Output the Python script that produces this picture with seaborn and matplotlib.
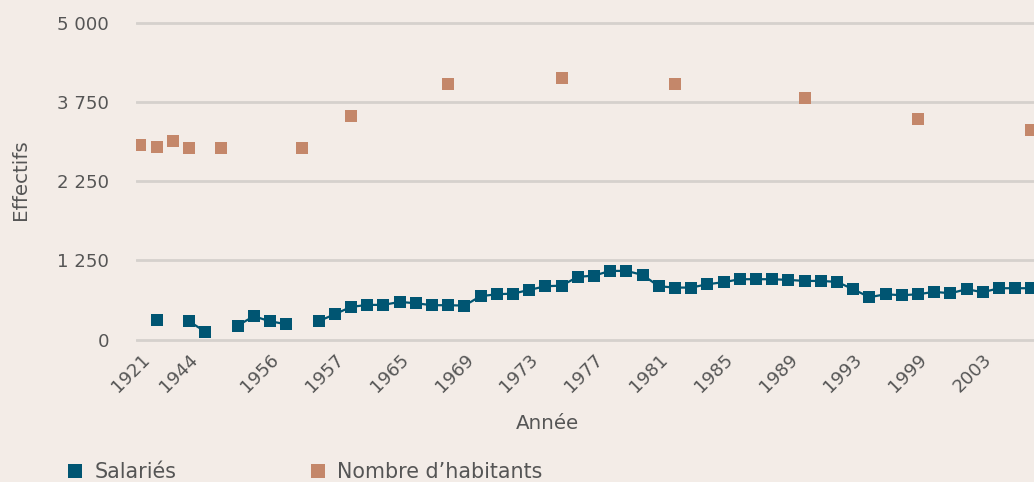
import numpy as np
import pandas as pd
import matplotlib
matplotlib.use("Agg")
import matplotlib.pyplot as plt
import matplotlib.transforms as mtransforms
import seaborn as sns
from matplotlib.lines import Line2D

# one slot per category on the x axis, None where no value
salaries = [None, 306, None, 290, 126, None, 221, 369, 290, 243,
            None, 290, 401, 516, 548, 548, 595, 574, 543, 543,
            537, 685, 716, 726, 784, 842, 852, 990, 1010, 1084,
            1084, 1021, 842, 821, 821, 874, 906, 953, 953, 953,
            942, 926, 926, 911, 795, 669, 716, 700, 716, 753,
            732, 795, 748, 811, 811, 811]
habitants = [3068, 3037, 3136, 3021, None, 3021, None, None, None, None,
             3021, None, None, 3526, None, None, None, None, None, 4031,
             None, None, None, None, None, None, 4126, None, None, None,
             None, None, None, 4031, None, None, None, None, None, None,
             None, 3810, None, None, None, None, None, None, 3479, None,
             None, None, None, None, None, 3305]
tick_labels = ["1921", "1944", "1956", "1957", "1965", "1969", "1973",
               "1977", "1981", "1985", "1989", "1993", "1999", "2003"]
tick_pos = [0, 3, 8, 12, 16, 20, 24, 28, 32, 36, 40, 44, 48, 52]
y_ticks = [0, 1250, 2500, 3750, 5000]
y_tick_labels = ["0", "1 250", "2 250", "3 750", "5 000"]

BG = "#F3ECE7"
BLUE = "#005572"
ORANGE = "#C4876A"
TXT = "#555555"
GRID = "#D5D1CD"

sns.set_style("white")
plt.rcParams["font.family"] = ["DejaVu Sans"]

df = pd.DataFrame({"pos": np.arange(len(salaries)),
                   "salaries": pd.to_numeric(pd.Series(salaries), errors="coerce"),
                   "habitants": pd.to_numeric(pd.Series(habitants), errors="coerce")})
# split the salaries line where values are missing
df["seg"] = df["salaries"].isna().cumsum()
sal = df.dropna(subset=["salaries"])
hab = df.dropna(subset=["habitants"])

fig = plt.figure(figsize=(10.34, 4.82), dpi=100, facecolor=BG)
ax = fig.add_axes([136 / 1034, 0.2822, (1034 - 136) / 1034, 0.684])
ax.set_facecolor(BG)

for y in y_ticks:
    ax.axhline(y, color=GRID, lw=2, zorder=0)

sns.lineplot(data=sal, x="pos", y="salaries", units="seg", estimator=None,
             color=BLUE, lw=1.6, marker="s", markersize=8, markeredgewidth=0,
             ax=ax, zorder=3)
sns.scatterplot(data=hab, x="pos", y="habitants", color=ORANGE, marker="s",
                s=64, linewidth=0, ax=ax, zorder=3)

ax.set_xlim(-0.27, 55.16)
ax.set_ylim(-100, 5100)
ax.set_xticks(tick_pos)
ax.set_xticklabels(tick_labels, rotation=45, ha="right", va="top",
                   rotation_mode="anchor")
shift = mtransforms.ScaledTranslation(10 / 72, 0, fig.dpi_scale_trans)
for lab in ax.get_xticklabels():
    lab.set_transform(lab.get_transform() + shift)
ax.set_yticks(y_ticks)
ax.set_yticklabels(y_tick_labels)
ax.tick_params(axis="y", length=0, pad=19.4, labelsize=13.1, labelcolor=TXT)
ax.tick_params(axis="x", length=0, pad=3.5, labelsize=13.1, labelcolor=TXT)
for s in ax.spines.values():
    s.set_visible(False)

ax.set_xlabel("Année", fontsize=14.3, color=TXT)
ax.xaxis.set_label_coords(0.4577, (346 - 424) / 329.7)
ax.xaxis.label.set_va("center")
ax.set_ylabel("Effectifs", fontsize=14.3, color=TXT)
ax.yaxis.set_label_coords((20.5 - 136) / 898, (346 - 180) / 329.7)
ax.yaxis.label.set_va("center")

leg_items = [("Salariés", BLUE, 68), ("Nombre d’habitants", ORANGE, 311)]
for name, col, left in leg_items:
    h = Line2D([], [], ls="", marker="s", markersize=9.4, color=col, markeredgewidth=0)
    fig.legend([h], [name], loc="center left", bbox_to_anchor=(left / 1034, 0.021),
               frameon=False, fontsize=14.9, labelcolor=TXT, borderpad=0,
               borderaxespad=0, handlelength=0.65, handletextpad=0.62)

fig.savefig("out.png", dpi=100, facecolor=BG)
